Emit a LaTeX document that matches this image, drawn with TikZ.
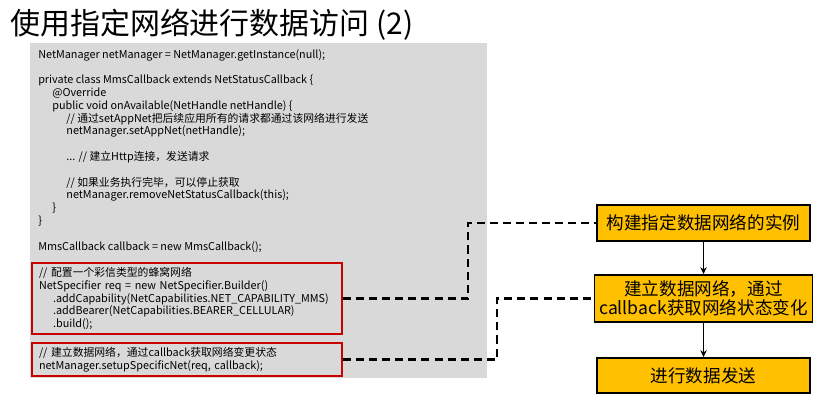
\documentclass[tikz,border=0pt]{standalone}
\usepackage{fontspec}
\setmainfont{Noto Sans CJK SC}
\usetikzlibrary{arrows.meta}

\definecolor{codegray}{RGB}{217,217,217}
\definecolor{markred}{RGB}{200,0,0}
\definecolor{stepyellow}{RGB}{255,192,0}
\def\px{0.025cm}
\newcommand\codeind{\hspace*{10pt}}

\begin{document}
\begin{tikzpicture}[x=\px, y=-\px,
  code/.style={font=\fontsize{7.7}{9.1}\selectfont, align=left, inner sep=0pt},
  redbox/.style={code, draw=markred, line width=1.4pt, text width=296*\px,
    minimum width=310*\px, inner xsep=6*\px},
  stepbox/.style={draw, line width=1.1pt, fill=stepyellow, align=center,
    minimum width=213*\px, font=\fontsize{12.5}{13.5}\selectfont},
  link/.style={line width=1.6pt, dash pattern=on 5.7pt off 3.6pt}]
\useasboundingbox (0,0) rectangle (820,406);

\node[anchor=base west, font=\fontsize{21.3}{25}\selectfont, inner sep=0pt] (title) at (10,35) {使用指定网络进行数据访问 (2)};

% 代码背景
\fill[codegray] (30,43) rectangle (487,378);

\node[code, anchor=north west] (main) at (38,49) {%
NetManager netManager = NetManager.getInstance(null);\\[9.1pt]
private class MmsCallback extends NetStatusCallback \{\\
\codeind @Override\\
\codeind public void onAvailable(NetHandle netHandle) \{\\
\codeind\codeind // 通过setAppNet把后续应用所有的请求都通过该网络进行发送\\
\codeind\codeind netManager.setAppNet(netHandle);\\[9.1pt]
\codeind\codeind ... // 建立Http连接，发送请求\\[9.1pt]
\codeind\codeind // 如果业务执行完毕，可以停止获取\\
\codeind\codeind netManager.removeNetStatusCallback(this);\\
\codeind \}\\
\}\\[9.1pt]
MmsCallback callback = new MmsCallback();};

% 红框
\node[redbox, minimum height=71*\px] (spec) at (187,298.5) {%
// 配置一个彩信类型的蜂窝网络\\
NetSpecifier req = new NetSpecifier.Builder()\\
\codeind .addCapability(NetCapabilities.NET\_CAPABILITY\_MMS)\\
\codeind .addBearer(NetCapabilities.BEARER\_CELLULAR)\\
\codeind .build();};
\node[redbox, minimum height=33*\px] (net) at (187,359.5) {%
// 建立数据网络，通过callback获取网络变更状态\\
netManager.setupSpecificNet(req, callback);};

% 右侧步骤
\node[stepbox, minimum height=36*\px] (build) at (703.5,223) {构建指定数据网络的实例};
\node[stepbox, minimum height=47*\px] (setup) at (703.5,298.5) {建立数据网络，通过\\callback获取网络状态变化};
\node[stepbox, minimum height=35*\px] (send) at (703.5,375.5) {进行数据发送};

\draw[line width=1.1pt, -{Stealth[length=5pt, width=4.5pt]}] (build) -- (setup);
\draw[line width=1.1pt, -{Stealth[length=5pt, width=4.5pt]}] (setup) -- (send);

% 虚线连接
\coordinate (bendA) at (468,0);
\coordinate (bendB) at (497,0);
\draw[link] (spec.east) -- (spec.east -| bendA) |- (build.west);
\draw[link] (net.east) -- (net.east -| bendB) |- (setup.west);

\end{tikzpicture}
\end{document}
